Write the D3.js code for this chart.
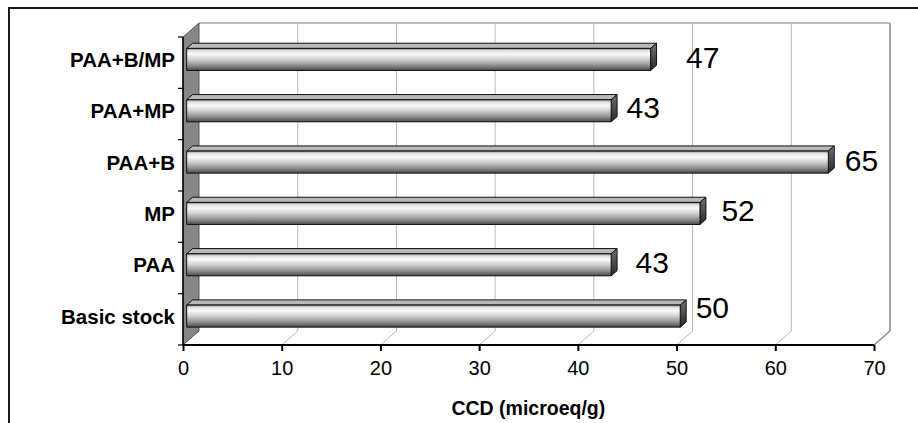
<!DOCTYPE html>
<html>
<head>
<meta charset="utf-8">
<script src="https://cdn.jsdelivr.net/npm/d3@7/dist/d3.min.js"></script>
<style>
  html, body { margin: 0; padding: 0; background: #fff; }
  svg { display: block; }
  text { font-family: "Liberation Sans", Arial, sans-serif; fill: #000; }
</style>
</head>
<body>
<svg id="chart" width="918" height="423"></svg>
<script>
// Treatments, bottom to top, and their CCD values (microeq/g)
const categories = ["Basic stock", "PAA", "MP", "PAA+B", "PAA+MP", "PAA+B/MP"];
const values = [50, 43, 52, 65, 43, 47];
const xTicks = [0, 10, 20, 30, 40, 50, 60, 70];
const axisTitle = "CCD (microeq/g)";

// Hand-placed offsets of the value labels (px), same order as categories
const labelDx = [11, 20, 17, 12, 11, 31];
const labelDy = [-9, -3, -3, -2, -4, -2];

const svg = d3.select("#chart");

// Plot frame (front plane) and 3D depth of the walls
const plotL = 183, plotR = 874, plotT = 37, plotB = 345;
const depthX = 16, depthY = -14;
// Bars sit between these fractions of the depth
const barT0 = 0.23, barT1 = 0.6;

const x = d3.scaleLinear().domain([0, 70]).range([plotL, plotR]);
const y = d3.scaleBand().domain(categories.slice().reverse()).range([plotT, plotB]).padding(0);
const barH = y.bandwidth() * 0.43;

// Outer border
svg.append("rect")
  .attr("x", 9).attr("y", 8).attr("width", 930).attr("height", 440)
  .attr("fill", "none").attr("stroke", "#1a1a1a").attr("stroke-width", 2);

// Gradients for the bar faces
const defs = svg.append("defs");
const gFront = defs.append("linearGradient").attr("id", "front")
  .attr("x1", 0).attr("y1", 0).attr("x2", 0).attr("y2", 1);
[[0, "#8a8a8a"], [0.1, "#dedede"], [0.25, "#fafafa"], [0.5, "#d0d0d0"],
 [0.78, "#8c8c8c"], [1, "#4a4a4a"]]
  .forEach(([o, c]) => gFront.append("stop").attr("offset", o).attr("stop-color", c));
const gSide = defs.append("linearGradient").attr("id", "side")
  .attr("x1", 0).attr("y1", 0).attr("x2", 0).attr("y2", 1);
[[0, "#707070"], [0.3, "#5a5a5a"], [1, "#2a2a2a"]]
  .forEach(([o, c]) => gSide.append("stop").attr("offset", o).attr("stop-color", c));

// Back wall gridlines and floor diagonals
const grid = svg.append("g");
xTicks.slice(1).forEach(t => {
  const isLast = t === xTicks[xTicks.length - 1];
  grid.append("line")
    .attr("x1", x(t) + depthX).attr("x2", x(t) + depthX)
    .attr("y1", plotT + depthY).attr("y2", plotB + depthY)
    .attr("stroke", isLast ? "#8f8f8f" : "#b8b8b8")
    .attr("stroke-width", isLast ? 1.6 : 1);
  grid.append("line")
    .attr("x1", x(t)).attr("y1", plotB)
    .attr("x2", x(t) + depthX).attr("y2", plotB + depthY)
    .attr("stroke", isLast ? "#8f8f8f" : "#b8b8b8")
    .attr("stroke-width", isLast ? 1.6 : 1);
});
// Top edge of the back wall
grid.append("line")
  .attr("x1", x(0) + depthX).attr("x2", x(70) + depthX)
  .attr("y1", plotT + depthY).attr("y2", plotT + depthY)
  .attr("stroke", "#a8a8a8").attr("stroke-width", 1.4);

// Left side wall
svg.append("polygon")
  .attr("points", [
    [plotL, plotT], [plotL + depthX, plotT + depthY],
    [plotL + depthX, plotB + depthY], [plotL, plotB]
  ].map(p => p.join(",")).join(" "))
  .attr("fill", "#878787").attr("stroke", "#3a3a3a").attr("stroke-width", 0.8);

// Bars: front, top and side faces
const bars = svg.append("g");
categories.forEach((c, i) => {
  const v = values[i];
  const fx = depthX * barT0, fy = depthY * barT0;
  const dx = depthX * (barT1 - barT0), dy = depthY * (barT1 - barT0);
  const x0 = x(0) + fx, x1 = x(v) + fx;
  const yc = y(c) + y.bandwidth() / 2 + fy;
  const y0 = yc - barH / 2, y1 = yc + barH / 2;
  const g = bars.append("g").attr("stroke", "#111").attr("stroke-width", 1)
    .attr("stroke-linejoin", "round");
  // top face
  g.append("polygon")
    .attr("points", [[x0, y0], [x0 + dx, y0 + dy], [x1 + dx, y0 + dy], [x1, y0]]
      .map(p => p.join(",")).join(" "))
    .attr("fill", "#b9b9b9");
  // side face
  g.append("polygon")
    .attr("points", [[x1, y0], [x1 + dx, y0 + dy], [x1 + dx, y1 + dy], [x1, y1]]
      .map(p => p.join(",")).join(" "))
    .attr("fill", "url(#side)");
  // front face
  g.append("rect")
    .attr("x", x0).attr("y", y0).attr("width", x1 - x0).attr("height", barH)
    .attr("fill", "url(#front)");

  // value label
  svg.append("text")
    .attr("x", x1 + dx + labelDx[i] - 1.5)
    .attr("y", yc + labelDy[i] + 10.8)
    .attr("font-size", 30)
    .text(v);
});

// Y axis line with band tick marks
const yAxis = svg.append("g");
yAxis.append("line")
  .attr("x1", plotL).attr("x2", plotL).attr("y1", plotT).attr("y2", plotB)
  .attr("stroke", "#000").attr("stroke-width", 1.5);
const bounds = categories.map(c => y(c)).concat([plotB]);
bounds.forEach(b => {
  yAxis.append("line")
    .attr("x1", plotL - 5).attr("x2", plotL).attr("y1", b).attr("y2", b)
    .attr("stroke", "#000").attr("stroke-width", 1.2);
});
categories.forEach(c => {
  yAxis.append("text")
    .attr("x", 175)
    .attr("y", y(c) + y.bandwidth() / 2 - 3.2 + 7.4)
    .attr("text-anchor", "end")
    .attr("font-size", 20.5).attr("font-weight", "bold")
    .text(c);
});

// X axis
const xAxis = svg.append("g").attr("transform", `translate(0,${plotB})`)
  .call(d3.axisBottom(x).tickValues(xTicks).tickSize(6).tickPadding(10));
xAxis.select(".domain").attr("stroke", "#000").attr("stroke-width", 2.2)
  .attr("d", `M${plotL},0H${plotR}`);
xAxis.selectAll(".tick line").attr("stroke", "#000").attr("stroke-width", 2);
xAxis.selectAll(".tick text")
  .attr("font-size", 20)
  .attr("font-family", "Liberation Sans, Arial, sans-serif")
  .attr("fill", "#000");

// Axis title
svg.append("text")
  .attr("x", (446.7 + 610) / 2).attr("y", 415)
  .attr("text-anchor", "middle")
  .attr("font-size", 19.5).attr("font-weight", "bold")
  .text(axisTitle);
</script>
</body>
</html>
